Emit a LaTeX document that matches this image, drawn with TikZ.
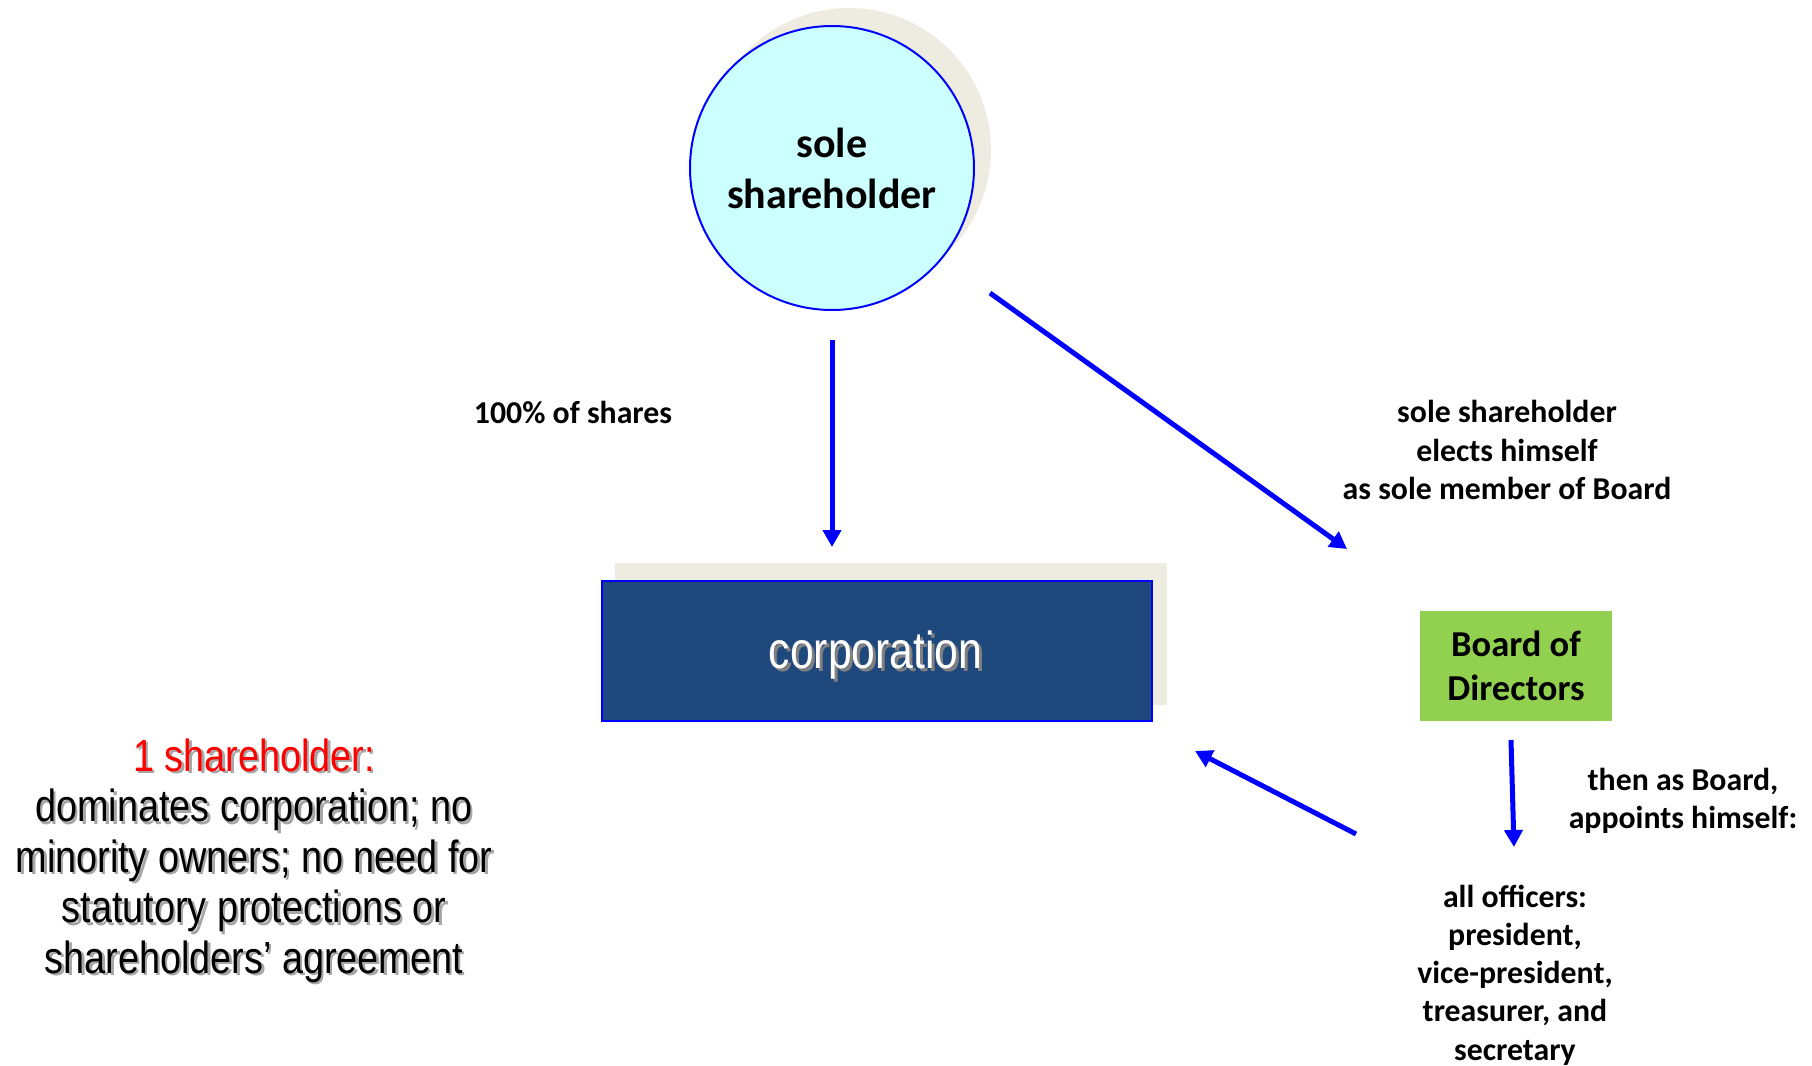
\documentclass[tikz,border=0pt]{standalone}
\usepackage{fontspec}
\setmainfont{Carlito}
\newfontfamily\leftfont[FakeStretch=0.84]{Liberation Sans}
\newfontfamily\corpfont[FakeStretch=0.82]{Liberation Sans}
\usetikzlibrary{arrows.meta}
\definecolor{tanbg}{HTML}{EEECE1}
\definecolor{lightcyan}{HTML}{CCFFFF}
\definecolor{corpblue}{HTML}{1F497D}
\definecolor{boardgreen}{HTML}{92D050}
\definecolor{arrblue}{HTML}{0000FF}
\definecolor{shred}{HTML}{FF0000}
\begin{document}
\begin{tikzpicture}[x=0.5pt,y=-0.5pt,
  arr/.style={draw=arrblue, line width=2.5pt, -{Triangle[width=9pt,length=8.5pt]}},
  lbl/.style={font=\bfseries\fontsize{15.9}{19.1}\selectfont, align=center, inner sep=0pt},
  lefttext/.style={font=\leftfont\fontsize{22.5}{25.25}\selectfont, align=center, inner sep=0pt},
  corptext/.style={font=\corpfont\fontsize{26}{30}\selectfont, inner sep=0pt}]
\useasboundingbox (0,0) rectangle (1812,1066);
% shadows
\fill[tanbg] (849,150) circle[radius=71pt];
\fill[tanbg] (615,563) rectangle (1167,705);
% sole shareholder
\node[circle, minimum size=142pt, inner sep=0pt, fill=lightcyan, draw=arrblue, line width=1pt,
      font=\bfseries\fontsize{21}{25.5}\selectfont, align=center] (sh) at (832,168) {sole\\shareholder};
% corporation
\node[rectangle, minimum width=275pt, minimum height=70pt, fill=corpblue, draw=arrblue, line width=1pt, inner sep=0pt] (corp) at (876.5,650.5) {};
\node[corptext, text=black!50] (corpsh) at (878.5,658) {corporation};
\node[corptext, text=white] (corptxt) at (875.5,655.5) {corporation};
% board
\node[rectangle, minimum width=96pt, minimum height=55pt, fill=boardgreen, inner sep=0pt,
      font=\bfseries\fontsize{18.25}{22}\selectfont, align=center] (board) at (1516,666) {Board of\\Directors};
% labels
\node[lbl, anchor=base] (shares) at (573,423) {100\% of shares};
\node[lbl] (elects) at (1507,450) {sole shareholder\\elects himself\\as sole member of Board};
\node[lbl] (appoints) at (1683,801) {then as Board,\\appoints himself:};
\node[lbl] (officers) at (1515,975) {all officers:\\president,\\vice-president,\\treasurer, and\\secretary};
% left text with shadow
\node[lefttext, text=black!35] (leftsh) at (256.5,863) {\textcolor{black!35}{1 shareholder:}\\dominates corporation; no\\minority owners; no need for\\statutory protections or\\shareholders’ agreement};
\node[lefttext] (lefttxt) at (254,860.5) {\textcolor{shred}{1 shareholder:}\\dominates corporation; no\\minority owners; no need for\\statutory protections or\\shareholders’ agreement};
% arrow end points
\coordinate (a1s) at (832,340);
\coordinate (a1e) at (832,547);
\coordinate (a2s) at (990,293);
\coordinate (a2e) at (1347,549);
\coordinate (a3s) at (1511,740);
\coordinate (a3e) at (1514,847);
\coordinate (a4s) at (1356,834);
\coordinate (a4e) at (1195,751);
\draw[arr] (a1s) -- (a1e);
\draw[arr] (a2s) -- (a2e);
\draw[arr] (a3s) -- (a3e);
\draw[arr] (a4s) -- (a4e);
\end{tikzpicture}
\end{document}
